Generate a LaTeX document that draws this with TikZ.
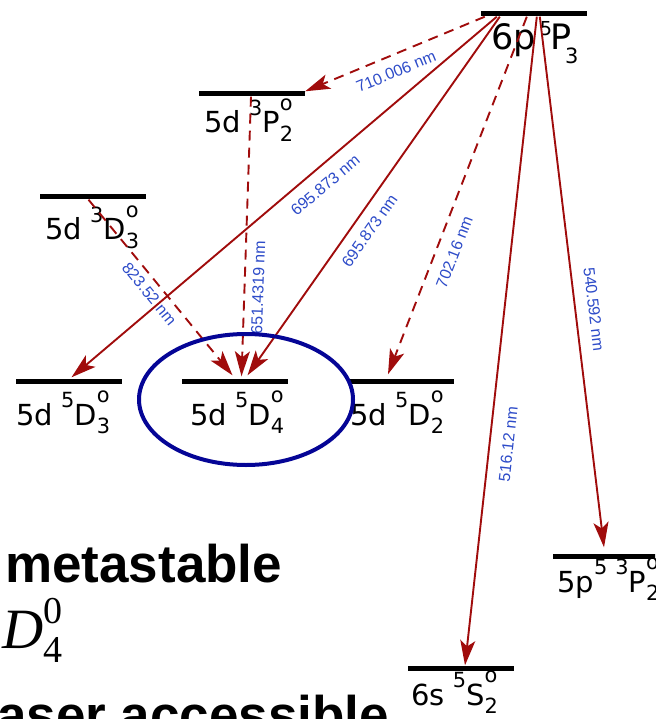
\documentclass[tikz,border=0pt]{standalone}
\usepackage{fontspec}
\usetikzlibrary{arrows.meta,calc,shapes.geometric}
\newfontfamily\lvf{DejaVu Sans}
\newfontfamily\lbf{Liberation Sans}
\newfontfamily\tmf{Liberation Serif}
\definecolor{arrred}{RGB}{160,12,12}
\definecolor{lblue}{RGB}{45,75,200}
\definecolor{ellblue}{RGB}{5,5,150}
\newcommand\hi[1]{\raisebox{0.62em}{\scalebox{0.72}{#1}}}
\newcommand\hio[1]{\raisebox{0.78em}{\scalebox{0.72}{#1}}}
\newcommand\lo[1]{\raisebox{-0.3em}{\scalebox{0.72}{#1}}}
\newcommand\trm[5]{#1\hspace{0.28em}\hi{#2}#3\rlap{\hio{#4}}\lo{#5}}
\begin{document}
\begin{tikzpicture}[x=1pt,y=-1pt,
  bar/.style={fill=black, inner sep=0pt, minimum width=106pt, minimum height=5pt},
  lvl/.style={font=\lvf\fontsize{29}{31}\selectfont, inner sep=0pt, anchor=base west},
  tr/.style={draw=arrred, line width=1.9pt, -{Stealth[length=25pt,width=15pt,inset=6pt]}},
  trd/.style={tr, dash pattern=on 10pt off 7pt},
  wl/.style={font=\lbf\fontsize{16}{18}\selectfont, text=lblue, inner sep=0pt, sloped},
  big/.style={font=\lbf\bfseries\fontsize{53}{60}\selectfont, inner sep=0pt, anchor=base west}]
\useasboundingbox (0,0) rectangle (655,719);
\clip (0,0) rectangle (655,719);
% levels
\node[bar] (P6) at (534,14) {};
\node[bar] (P3) at (252,94) {};
\node[bar] (D33) at (92.5,197) {};
\node[bar] (D53) at (68.5,381) {};
\node[bar] (D54) at (234.5,381) {};
\node[bar] (D52) at (401,381) {};
\node[bar] (P53) at (606,556) {};
\node[bar] (S52) at (461,668) {};
% level labels
\node[lvl, font=\lvf\fontsize{35}{37}\selectfont] (tP6) at (491,50)
  {6p\hspace{0.12em}\raisebox{0.42em}{\scalebox{0.55}{5}}\kern-0.05em P\kern-0.18em\raisebox{-0.4em}{\scalebox{0.6}{3}}};
\node[lvl] (tP3) at (204,133) {\trm{5d}{3}{P}{o}{2}};
\node[lvl] (tD33) at (45,240) {\trm{5d}{3}{D}{o}{3}};
\node[lvl] (tD53) at (16,425) {\trm{5d}{5}{D}{o}{3}};
\node[lvl] (tD54) at (190,425) {\trm{5d}{5}{D}{o}{4}};
\node[lvl] (tD52) at (350,425) {\trm{5d}{5}{D}{o}{2}};
\node[lvl] (tP53) at (557,592) {\trm{5p\hi{5}}{3}{P}{o}{2}};
\node[lvl] (tS52) at (411,705) {\trm{6s}{5}{S}{o}{2}};
% transitions
\draw[trd] ($(P6.south west)+(4,0)$) -- (P3.north east)
  node[wl, pos=0.53, below=10pt] {710.006 nm};
\draw[tr] ($(P6.south west)+(16,0)$) -- ($(D53.north)+(3,-1)$)
  node[wl, pos=0.43, below=11pt] {695.873 nm};
\draw[tr] ($(P6.south west)+(19,0)$) -- ($(D54.north)+(13,-3)$)
  node[wl, pos=0.57, below=10pt] {695.873 nm};
\draw[trd] ($(P6.south west)+(46,0)$) -- ($(D52.north)+(-13,-4)$)
  node[wl, pos=0.64, below=11pt] {702.16 nm};
\draw[tr] ($(P6.south west)+(56,0)$) -- ($(S52.north)+(4,0)$)
  node[wl, pos=0.656, below=12pt] {516.12 nm};
\draw[tr] ($(P6.south west)+(59,0)$) -- ($(P53.north)+(-2,-6)$)
  node[wl, pos=0.556, above=12pt] {540.592 nm};
\draw[trd] ($(P3.south)+(-1,0)$) -- ($(D54.north)+(7,-2)$)
  node[wl, pos=0.68, below=7pt] {651.4319 nm};
\draw[trd] ($(D33.south)+(-4,0)$) -- ($(D54.north)+(-2,-3)$)
  node[wl, pos=0.49, below=6pt] {823.52 nm};
% highlight
\node[draw=ellblue, line width=4pt, ellipse, minimum width=214pt, minimum height=131pt, inner sep=0pt] (hl) at (246,399.5) {};
% bottom text
\node[big] (meta) at (5,582) {metastable};
\node[font=\tmf\fontsize{57}{60}\selectfont, inner sep=0pt, anchor=base west] (Dterm) at (2,648)
  {\itshape D\rlap{\raisebox{25pt}{\fontsize{38}{40}\selectfont\upshape 0}}\raisebox{-14pt}{\fontsize{38}{40}\selectfont\upshape 4}};
\node[big] (acc) at (-3,733) {aser accessible};
\end{tikzpicture}
\end{document}
